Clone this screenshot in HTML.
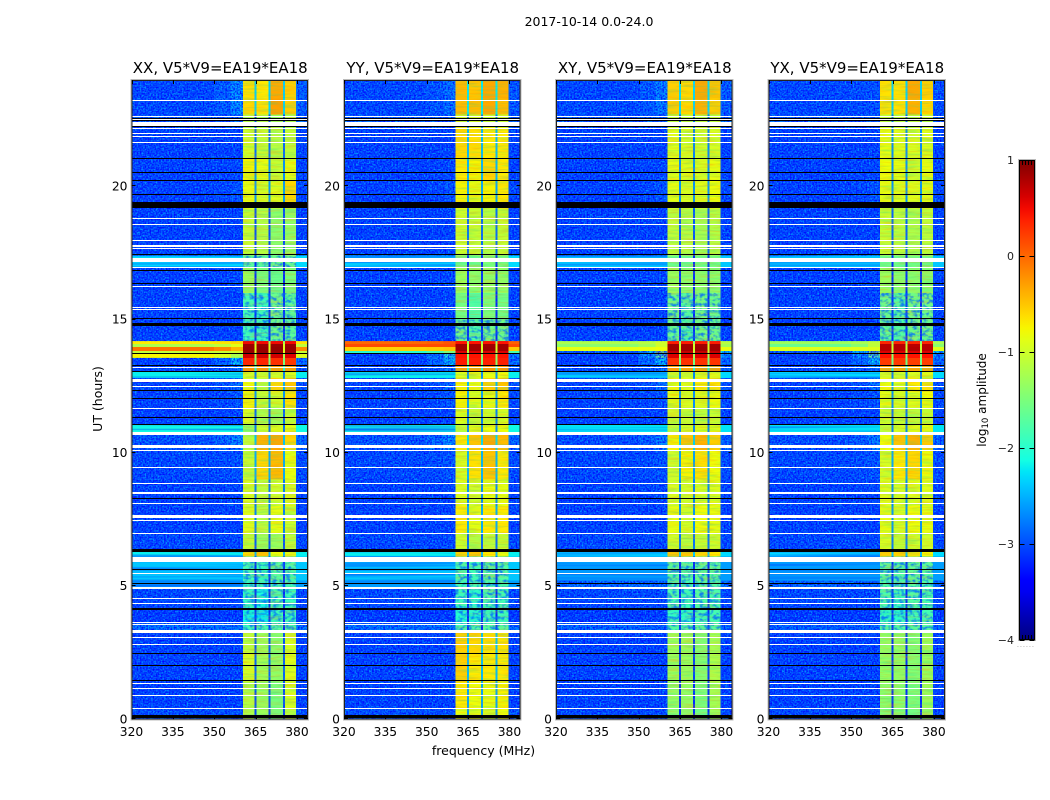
<!DOCTYPE html>
<html>
<head>
<meta charset="utf-8">
<title>2017-10-14 0.0-24.0</title>
<style>
html,body{margin:0;padding:0;background:#fff;}
svg{display:block;font-family:"DejaVu Sans","Liberation Sans",sans-serif;}
</style>
</head>
<body>
<svg id="figure" width="1050" height="800" viewBox="0 0 1050 800" xmlns="http://www.w3.org/2000/svg">
<defs id="defs">
<filter id="speck-light" x="0" y="0" width="100%" height="100%" color-interpolation-filters="sRGB">
<feTurbulence type="fractalNoise" baseFrequency="0.62" numOctaves="1" seed="3"/>
<feColorMatrix values="0 0 0 0 0  0 0 0 0 .62  0 0 0 0 1  2.8 0 0 0 -1"/>
</filter>
<filter id="speck-dark" x="0" y="0" width="100%" height="100%" color-interpolation-filters="sRGB">
<feTurbulence type="fractalNoise" baseFrequency="0.62" numOctaves="1" seed="11"/>
<feColorMatrix values="0 0 0 0 0  0 0 0 0 0  0 0 0 0 1  0 2.8 0 0 -1.05"/>
</filter>
<filter id="band-stripes" x="0" y="0" width="100%" height="100%" color-interpolation-filters="sRGB">
<feTurbulence type="fractalNoise" baseFrequency="0.06 0.55" numOctaves="2" seed="7"/>
<feColorMatrix values="0 0 0 0 1  0 0 0 0 .55  0 0 0 0 0  1.8 0 0 0 -.8"/>
</filter>
<filter id="band-stripes-cool" x="0" y="0" width="100%" height="100%" color-interpolation-filters="sRGB">
<feTurbulence type="fractalNoise" baseFrequency="0.05 0.5" numOctaves="2" seed="19"/>
<feColorMatrix values="0 0 0 0 .1  0 0 0 0 .85  0 0 0 0 .6  1.8 0 0 0 -.8"/>
</filter>
<filter id="band-mottle" x="0" y="0" width="100%" height="100%" color-interpolation-filters="sRGB">
<feTurbulence type="fractalNoise" baseFrequency="0.22 0.3" numOctaves="2" seed="23"/>
<feColorMatrix values="0 0 0 0 0  0 0 0 0 .4  0 0 0 0 1  3 0 0 0 -1.3"/>
</filter>
<filter id="quiet-stripes" x="0" y="0" width="100%" height="100%" color-interpolation-filters="sRGB">
<feTurbulence type="fractalNoise" baseFrequency="0.004 0.45" numOctaves="1" seed="5"/>
<feColorMatrix values="0 0 0 0 0  0 0 0 0 .3  0 0 0 0 1  2.5 0 0 0 -1"/>
</filter>
<linearGradient id="jet-gradient" x1="0" y1="1" x2="0" y2="0"></linearGradient>
</defs>
<text x="589" y="26" font-size="12.5" text-anchor="middle">2017-10-14 0.0-24.0</text>
<text x="0" y="0" font-size="12.5" text-anchor="middle" transform="translate(102,399) rotate(-90)">UT (hours)</text>
<text x="483.5" y="755" font-size="12.5" text-anchor="middle">frequency (MHz)</text>
<text x="0" y="0" font-size="12" text-anchor="middle" transform="translate(986,400) rotate(-90)">log<tspan font-size="8.5" dy="2">10</tspan><tspan dy="-2"> amplitude</tspan></text>
</svg>
<script>
// ---------- chart data ----------
const panelTitles = ["XX, V5*V9=EA19*EA18","YY, V5*V9=EA19*EA18","XY, V5*V9=EA19*EA18","YX, V5*V9=EA19*EA18"];
const freqTicks = [320,335,350,365,380];
const utTicks = [0,5,10,15,20];
const colorbarTicks = [1,0,-1,-2,-3,-4];
const colorbarLabels = ["1","0","\u22121","\u22122","\u22123","\u22124"];
// time-band boundaries in UT hours
const utEdges = [0,.4,1.4,2.5,3.25,3.6,4.15,4.9,5.2,6.1,6.3,7,8,9,10.1,10.7,11.07,11.7,12.3,12.8,13.05,13.3,13.56,13.74,13.82,13.97,14.08,14.19,15,16,16.97,17.4,19.16,20.2,21.05,22.2,22.7,23.3,24];
// frequency boundaries in MHz: background, shoulder, near-band, four sub-bands split by gaps, upper edge
const freqEdges = [320,350,356,360.4,364.6,365.4,369.7,370.4,374.9,375.6,379.7,384];
// log10 amplitude of the background per time band
const xxBackground = [-2.95,-3.05,-3.05,-3.05,-2.7,-3.1,-3,-2.6,-2.4,-2.2,-3,-3.05,-3.05,-3,-2.9,-2.15,-3.05,-3.05,-3,-2.2,-3,-3.05,-.75,-1.1,-.05,-1.2,-.7,-3.05,-3.05,-3.05,-2.3,-3.05,-3.05,-3.05,-3.05,-2.9,-3,-3];
const yyBackground = [-2.95,-3.05,-3.05,-3.05,-2.7,-3.1,-3,-2.6,-2.4,-2.2,-3,-3.05,-3.05,-3,-2.9,-2.15,-3.05,-3.05,-3,-2.2,-3,-3.05,-3.05,-2.0,-.55,.15,0,-3.05,-3.05,-3.05,-2.3,-3.05,-3.05,-3.05,-3.05,-2.9,-3,-3];
const xyBackground = [-3,-3.05,-3.05,-3.05,-2.8,-3.1,-3,-2.75,-2.6,-2.3,-3,-3.05,-3.05,-3,-2.95,-2.25,-3.05,-3.05,-3,-2.3,-3,-3.05,-3.05,-2.8,-.85,-1.4,-1.2,-3.05,-3.05,-3.05,-2.4,-3.05,-3.05,-3.05,-3.05,-2.9,-3,-3];
const yxBackground = [-3,-3.05,-3.05,-3.05,-2.8,-3.1,-3,-2.75,-2.6,-2.3,-3,-3.05,-3.05,-3,-2.95,-2.25,-3.05,-3.05,-3,-2.3,-3,-3.05,-3.05,-2.8,-.9,-1.6,-1.3,-3.05,-3.05,-3.05,-2.4,-3.05,-3.05,-3.05,-3.05,-2.9,-3,-3];
// log10 amplitude just outside the band per time band
const xxNear = [-2.95,-3.05,-3.05,-3.05,-2.7,-3.1,-3,-2.6,-2.4,-2.2,-3,-3.05,-3,-2.9,-2.5,-2.15,-3.05,-2.9,-2.7,-2.2,-2.7,-2.2,-1.2,-1.0,-.4,-.9,-.6,-3.05,-3.05,-3,-2.3,-3.05,-2.9,-3,-3.05,-2.9,-2.5,-2.5];
const yyNear = [-2.95,-3.05,-3.05,-3.05,-2.7,-3.1,-3,-2.6,-2.4,-2.2,-3,-3.05,-3,-2.9,-2.5,-2.15,-3.05,-2.9,-2.7,-2.2,-2.7,-2.2,-2,-1.5,-.5,.15,.1,-3.05,-3.05,-3,-2.3,-3.05,-2.9,-3,-3.05,-2.9,-2.7,-2.7];
const xyNear = [-3,-3.05,-3.05,-3.05,-2.8,-3.1,-3,-2.75,-2.6,-2.3,-3,-3.05,-3,-2.9,-2.6,-2.25,-3.05,-2.9,-2.7,-2.3,-2.7,-2.2,-1.5,-1.2,-.8,-1,-1,-3.05,-3.05,-3,-2.4,-3.05,-2.9,-3,-3.05,-2.9,-2.6,-2.6];
const yxNear = [-3,-3.05,-3.05,-3.05,-2.8,-3.1,-3,-2.75,-2.6,-2.3,-3,-3.05,-3,-2.9,-2.6,-2.25,-3.05,-2.9,-2.7,-2.3,-2.7,-2.2,-1.6,-1.3,-.9,-1.1,-1.1,-3.05,-3.05,-3,-2.4,-3.05,-2.9,-3,-3.05,-2.9,-2.9,-2.9];
// log10 amplitude in the four sub-bands per time band
const xxBand = [[-1.2,-1.3,-1.5,-1.1],[-1.15,-1.3,-1.5,-.95],[-.95,-1.25,-1.35,-.9],[-1.1,-1.3,-1.4,-.95],[-1.9,-1.8,-1.7,-1.7],[-2.15,-2.2,-1.9,-1.9],[-1.95,-2.1,-1.8,-1.9],[-1.9,-1.9,-1.8,-1.8],[-1.85,-1.9,-1.7,-1.8],[-.6,-.5,-.8,-.9],[-1.05,-1.3,-1.3,-1.1],[-.9,-1.1,-.85,-1],[-.95,-1.1,-1,-.95],[-1.05,-.6,-.45,-.85],[-1.1,-.4,-.35,-.6],[-1.3,-1,-.9,-.85],[-.95,-1.2,-1.3,-1.05],[-.75,-1.05,-1,-.65],[-.8,-1.1,-.6,-.5],[-1,-1,-1,-.9],[-.25,-.25,-.3,-.3],[.35,.35,.3,.25],[.65,.65,.65,.6],[.9,.9,.9,.88],[.9,.9,.92,.9],[.88,.88,.9,.88],[.5,.5,.5,.5],[-1.9,-1.9,-1.6,-1.7],[-1.85,-1.9,-1.6,-1.7],[-1.3,-1.5,-1.6,-1.5],[-1.7,-1.7,-1.6,-1.6],[-1.05,-1.15,-1.4,-1.35],[-.85,-.95,-.9,-.6],[-.75,-.85,-1.05,-.85],[-1,-1.05,-1.15,-1.1],[-1.2,-1.2,-1.3,-1.2],[-.6,-.65,-.3,-.55],[-.65,-.7,-.35,-.55]];
const yyBand = [[-.8,-.85,-.95,-.8],[-.7,-.8,-.85,-.75],[-.55,-.7,-.7,-.7],[-.55,-.6,-.65,-.65],[-1.85,-1.75,-1.7,-1.7],[-2.05,-2.1,-1.9,-1.9],[-1.9,-2,-1.8,-1.85],[-1.85,-1.85,-1.75,-1.8],[-1.8,-1.85,-1.7,-1.75],[-.6,-.5,-.7,-.8],[-1,-1.15,-1.1,-1.05],[-.7,-.85,-.7,-.7],[-.9,-1,-.85,-.85],[-.95,-.65,-.5,-.7],[-.7,-.5,-.35,-.45],[-1.1,-.9,-.8,-.8],[-.9,-1.05,-1,-.95],[-.75,-.9,-.85,-.7],[-.75,-.85,-.55,-.5],[-.9,-.9,-.85,-.8],[-.3,-.3,-.25,-.25],[.4,.4,.38,.38],[.45,.45,.45,.45],[.6,.6,.6,.6],[.85,.85,.88,.85],[.85,.85,.86,.85],[.45,.45,.45,.45],[-1.6,-1.75,-1.55,-1.6],[-1.55,-1.75,-1.5,-1.55],[-1.3,-1.4,-1.35,-1.35],[-1.6,-1.6,-1.5,-1.5],[-1,-1.05,-1.15,-1.05],[-.75,-.85,-.75,-.7],[-.7,-.75,-.6,-.7],[-.6,-.65,-.7,-.7],[-1,-1,-1,-1],[-.45,-.45,-.35,-.45],[-.45,-.5,-.35,-.4]];
const xyBand = [[-1.4,-1.4,-1.55,-1.3],[-1.35,-1.35,-1.5,-1.25],[-1.3,-1.3,-1.45,-1.2],[-1.3,-1.3,-1.45,-1.25],[-1.75,-1.75,-1.7,-1.7],[-1.95,-2,-1.85,-1.85],[-1.8,-1.9,-1.75,-1.8],[-1.75,-1.8,-1.7,-1.75],[-1.7,-1.75,-1.65,-1.7],[-.5,-.5,-.6,-.7],[-1,-1.1,-1.05,-1],[-.85,-.95,-.8,-.85],[-.95,-1,-.95,-.9],[-1,-.75,-.65,-.8],[-.75,-.5,-.4,-.55],[-1.1,-.95,-.9,-.85],[-1,-1.05,-1.1,-1.05],[-.85,-.95,-.9,-.8],[-.8,-.9,-.7,-.65],[-1,-1,-.95,-.9],[-.3,-.3,-.3,-.3],[.3,.3,.28,.28],[.6,.6,.6,.6],[.7,.7,.7,.7],[.85,.85,.87,.85],[.85,.85,.85,.85],[.4,.4,.4,.4],[-1.65,-1.75,-1.55,-1.6],[-1.6,-1.75,-1.55,-1.6],[-1.3,-1.4,-1.4,-1.4],[-1.6,-1.6,-1.55,-1.55],[-1.1,-1.15,-1.25,-1.15],[-.85,-.95,-.9,-.8],[-.85,-.9,-.95,-.85],[-.9,-.95,-1,-.95],[-1.1,-1.1,-1.1,-1.1],[-.55,-.6,-.4,-.55],[-.55,-.6,-.35,-.5]];
const yxBand = [[-1.45,-1.45,-1.55,-1.35],[-1.4,-1.4,-1.5,-1.3],[-1.35,-1.35,-1.45,-1.3],[-1.35,-1.35,-1.45,-1.3],[-1.75,-1.75,-1.7,-1.7],[-1.95,-2,-1.85,-1.85],[-1.8,-1.9,-1.75,-1.8],[-1.75,-1.8,-1.7,-1.75],[-1.7,-1.75,-1.65,-1.7],[-.55,-.55,-.65,-.75],[-.95,-1.05,-1,-1],[-.85,-.95,-.8,-.85],[-.9,-.95,-.9,-.9],[-.95,-.7,-.6,-.8],[-.8,-.5,-.4,-.55],[-1.1,-.95,-.9,-.85],[-1,-1.05,-1.1,-1.05],[-.85,-.95,-.9,-.8],[-.8,-.9,-.7,-.65],[-1,-1,-.95,-.9],[-.35,-.35,-.35,-.35],[.25,.25,.22,.22],[.45,.45,.45,.45],[.6,.6,.6,.6],[.75,.75,.78,.75],[.75,.75,.75,.75],[.35,.35,.35,.35],[-1.65,-1.75,-1.55,-1.6],[-1.6,-1.75,-1.55,-1.6],[-1.3,-1.4,-1.4,-1.4],[-1.6,-1.6,-1.55,-1.55],[-1.05,-1.1,-1.2,-1.1],[-.85,-.9,-.9,-.85],[-.8,-.85,-1,-.85],[-.85,-.9,-.95,-.9],[-1.1,-1.1,-1.1,-1.1],[-.65,-.65,-.4,-.6],[-.65,-.65,-.35,-.55]];
// flagged (blank) and zero-valued time ranges in UT hours
const whiteFlags = [[23.2,23.24],[22.58,22.62],[22.5,22.54],[22.26,22.42],[22.16,22.2],[21.97,22.01],[21.86,21.9],[21.63,21.67],[18.78,18.82],[18.55,18.59],[17.95,17.99],[17.73,17.8],[17.63,17.67],[17.16,17.32],[16.95,16.99],[16.21,16.25],[15.44,15.48],[15.34,15.38],[13.19,13.23],[12.66,12.78],[12.46,12.5],[11.65,11.69],[10.67,10.77],[10.15,10.28],[10.08,10.12],[9.44,9.48],[8.84,8.88],[8.44,8.53],[8.08,8.12],[7.56,7.68],[7.42,7.46],[6.96,7],[5.91,6.1],[5.46,5.5],[4.9,4.98],[4.51,4.55],[4.34,4.38],[3.6,3.64],[3.52,3.56],[3.25,3.36],[3.06,3.1],[2.77,2.81],[1.33,1.37],[1.14,1.18],[.89,.93],[.39,.43]];
const blackFlags = [[22.54,22.58],[22.45,22.5],[22.21,22.25],[21.03,21.07],[20.51,20.55],[20.2,20.24],[19.68,19.72],[19.16,19.4],[17.43,17.47],[16.83,16.87],[16.33,16.37],[15.03,15.07],[14.78,14.88],[13.72,13.76],[13.27,13.31],[13.02,13.06],[12.3,12.34],[12.03,12.07],[11.31,11.35],[11.05,11.09],[8.25,8.29],[6.29,6.4],[5.61,5.65],[5.08,5.12],[4.1,4.19],[2.44,2.48],[2.01,2.05],[1.42,1.46],[.03,.15]];

const panelBackground = [xxBackground,yyBackground,xyBackground,yxBackground];
const panelNear = [xxNear,yyNear,xyNear,yxNear];
const panelBand = [xxBand,yyBand,xyBand,yxBand];

// ---------- layout and scales ----------
const NS = "http://www.w3.org/2000/svg";
const svg = document.getElementById("figure");
const defs = document.getElementById("defs");
const panelLefts = [131.5,344,556,768.5];
const panelWidth = 176.5;
const plotTop = 80;
const plotBottom = 719.5;
function xScale(left,f){return left+(f-320)*panelWidth/64;}
function yScale(u){return 719.3-u*26.65;}
function cbarY(v){return 640-(v+4)*96;}
function lerpChannel(pts,n){
  for(let i=1;i<pts.length;i++){
    if(n<=pts[i][0]){
      const a=pts[i-1],b=pts[i];
      return a[1]+(b[1]-a[1])*(n-a[0])/(b[0]-a[0]);
    }
  }
  return pts[pts.length-1][1];
}
const jetR=[[0,0],[.35,0],[.66,1],[.89,1],[1,.5]];
const jetG=[[0,0],[.125,0],[.375,1],[.64,1],[.91,0],[1,0]];
const jetB=[[0,.5],[.11,1],[.34,1],[.65,0],[1,0]];
function jet(n){
  n=Math.max(0,Math.min(1,n));
  const c=[jetR,jetG,jetB].map(p=>Math.round(255*lerpChannel(p,n)));
  return "rgb("+c.join(",")+")";
}
function levelColor(v){return jet((v+4)/5);}
function mk(tag,attrs,parent){
  const el=document.createElementNS(NS,tag);
  for(const k in attrs){el.setAttribute(k,attrs[k]);}
  parent.appendChild(el);
  return el;
}
function bandMean(p,row){
  const b=panelBand[p][row];
  return (b[0]+b[1]+b[2]+b[3])/4;
}
function cellValue(p,row,col){
  const b=panelBand[p][row];
  const bg=panelBackground[p][row];
  const near=panelNear[p][row];
  const gap=Math.max(-3.2,bandMean(p,row)-1.8);
  const mid=bg+(near-bg)*.35;
  return [bg,mid,near,b[0],gap,b[1],gap,b[2],gap,b[3],mid][col];
}
function makeRowClip(id,left,f0,f1,test){
  const cp=mk("clipPath",{id:id},defs);
  
  
  for(let r=0;r<utEdges.length-1;r++){
    if(!test(r)){continue;}
    const x0=xScale(left,f0),x1=xScale(left,f1);
    const y0=yScale(utEdges[r+1]),y1=yScale(utEdges[r]);
    const rc=mk("rect",{x:x0,y:y0,width:x1-x0,height:y1-y0},cp);
    
    
  }
}
function snappedFlag(left,f,fill,parent){
  const y0=Math.round(yScale(f[1]));
  const h=Math.max(1,Math.round(yScale(f[0])-yScale(f[1])));
  return mk("rect",{x:left+.5,y:y0,width:panelWidth-.5,height:h,fill:fill},parent);
}

// ---------- panels ----------
panelLefts.forEach(function(left,p){
  const g=mk("g",{},svg);
  
  

  const cells=mk("g",{"shape-rendering":"crispEdges"},g);
  
  
  for(let r=0;r<utEdges.length-1;r++){
    for(let c=0;c<freqEdges.length-1;c++){
      const x0=xScale(left,freqEdges[c]),x1=xScale(left,freqEdges[c+1]);
      const y0=yScale(utEdges[r+1]),y1=yScale(utEdges[r]);
      const cell=mk("rect",{x:x0,y:y0,width:x1-x0,height:y1-y0,fill:levelColor(cellValue(p,r,c))},cells);
      
      
    }
  }
  // receiver-noise texture only on quiet rows; striping on bright rows and inside the band
  makeRowClip("quiet-"+p,left,320,360.4,function(r){return panelBackground[p][r]<-2.65;});
  makeRowClip("upper-"+p,left,380.1,384,function(r){return panelBackground[p][r]<-2.65;});
  makeRowClip("mid-"+p,left,320,360.4,function(r){return panelBackground[p][r]>=-2.65&&panelBackground[p][r]<-1.9;});
  makeRowClip("band-"+p,left,360.4,379.7,function(r){return bandMean(p,r)<0;});
  makeRowClip("low-"+p,left,360.4,379.7,function(r){return bandMean(p,r)<-1.6;});
  const textures=[["speck-light","quiet-",.9],["speck-dark","quiet-",.9],["speck-light","upper-",.9],["speck-dark","upper-",.9],["quiet-stripes","mid-",.7],["band-stripes","band-",.45],["band-stripes-cool","band-",.4],["band-mottle","low-",.8]];
  textures.forEach(function(t){
    const wrap=mk("g",{"clip-path":"url(#"+t[1]+p+")"},g);
    
    
    const n=mk("rect",{x:left,y:plotTop,width:panelWidth,height:plotBottom-plotTop,filter:"url(#"+t[0]+")",opacity:t[2]},wrap);
    
    
  });

  const flags=mk("g",{"shape-rendering":"crispEdges"},g);
  
  
  whiteFlags.forEach(function(f){
    const r=snappedFlag(left,f,"#fff",flags);
    
    
  });
  blackFlags.forEach(function(f){
    const r=snappedFlag(left,f,"#000",flags);
    
    
  });

  const halo=mk("rect",{x:left-.5,y:plotTop-.5,width:panelWidth+1,height:plotBottom-plotTop+1,fill:"none",stroke:"#bbb","stroke-width":1},g);
  
  
  const frame=mk("rect",{x:left+.5,y:plotTop+.5,width:panelWidth-1,height:plotBottom-plotTop-1,fill:"none",stroke:"#222","stroke-width":1},g);
  
  

  const title=mk("text",{x:left+panelWidth/2+.5,y:73,"font-size":15,"text-anchor":"middle"},g);
  
  
  title.textContent=panelTitles[p];

  freqTicks.forEach(function(f){
    const x=Math.round(xScale(left,f))+.5;
    const lo=mk("line",{x1:x,x2:x,y1:plotBottom,y2:plotBottom-4,stroke:"#000"},g);
    
    
    const hi=mk("line",{x1:x,x2:x,y1:plotTop,y2:plotTop+4,stroke:"#000"},g);
    
    
    const t=mk("text",{x:xScale(left,f),y:736,"font-size":12.3,"text-anchor":"middle"},g);
    
    
    t.textContent=String(f);
  });
  utTicks.forEach(function(u){
    const y=Math.round(yScale(u))-.5;
    const lo=mk("line",{x1:left,x2:left+4,y1:y,y2:y,stroke:"#000"},g);
    
    
    const hi=mk("line",{x1:left+panelWidth,x2:left+panelWidth-4,y1:y,y2:y,stroke:"#000"},g);
    
    
    const t=mk("text",{x:left-4,y:yScale(u)+4,"font-size":12.3,"text-anchor":"end"},g);
    
    
    t.textContent=String(u);
  });
});

// ---------- colorbar ----------
const grad=document.getElementById("jet-gradient");
for(let i=0;i<=40;i++){
  const s=mk("stop",{offset:(i/40*100)+"%","stop-color":jet(i/40)},grad);
  
  
}
const cbar=mk("g",{},svg);


const cbHalo=mk("rect",{x:1018.5,y:159.5,width:17,height:481,fill:"none",stroke:"#bbb"},cbar);


const cbRect=mk("rect",{x:1019.5,y:160.5,width:15,height:479,fill:"url(#jet-gradient)",stroke:"#000"},cbar);


colorbarTicks.forEach(function(v,i){
  const y=cbarY(v);
  const a=mk("line",{x1:1019.5,x2:1024.5,y1:y+.5,y2:y+.5,stroke:"#000"},cbar);
  
  
  const b=mk("line",{x1:1029.5,x2:1034.5,y1:y+.5,y2:y+.5,stroke:"#000"},cbar);
  
  
  const t=mk("text",{x:1014,y:y+4,"font-size":11,"text-anchor":"end",fill:"#222"},cbar);
  
  
  t.textContent=colorbarLabels[i];
});
[1022.5,1025.5,1028.5,1031.5].forEach(function(x){
  const a=mk("line",{x1:x,x2:x,y1:161,y2:165,stroke:"#000"},cbar);
  
  
  const b=mk("line",{x1:x,x2:x,y1:639,y2:635,stroke:"#000"},cbar);
  
  
});
const dots=mk("text",{x:1017,y:647,"font-size":6,fill:"#777","letter-spacing":"1.1"},cbar);


dots.textContent="......";
</script>
</body>
</html>
